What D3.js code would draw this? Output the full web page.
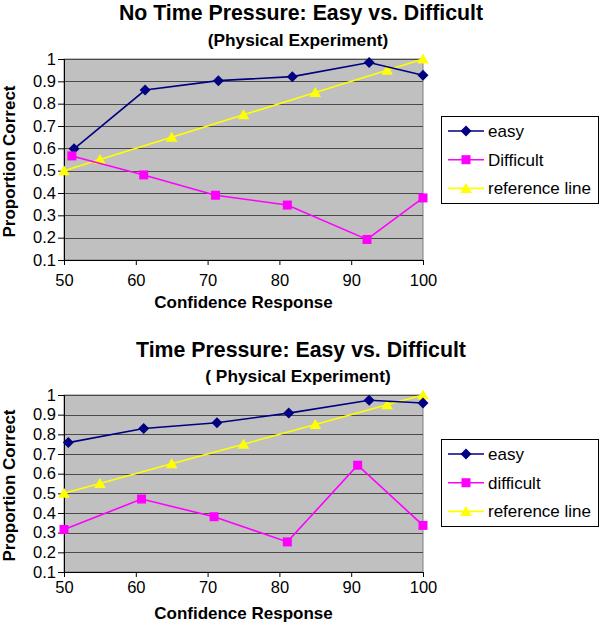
<!DOCTYPE html>
<html>
<head>
<meta charset="utf-8">
<script src="https://cdn.jsdelivr.net/npm/d3@7"></script>
<style>
  html, body { margin: 0; padding: 0; background: #fff; }
  svg { display: block; font-family: "Liberation Sans", Arial, Helvetica, sans-serif; }
</style>
</head>
<body>
<svg id="chart" width="600" height="625"></svg>
<script>
// ---------- data ----------
const xTicks = [50, 60, 70, 80, 90, 100];
const yTicks = [0.1, 0.2, 0.3, 0.4, 0.5, 0.6, 0.7, 0.8, 0.9, 1];
const yTickLabels = ["0.1", "0.2", "0.3", "0.4", "0.5", "0.6", "0.7", "0.8", "0.9", "1"];

const refX = [50, 55, 65, 75, 85, 95, 100];
const refY = [0.5, 0.55, 0.65, 0.75, 0.85, 0.95, 1.0];

// Chart 1: No time pressure
const noPressTitle = "No Time Pressure: Easy vs. Difficult";
const noPressSubtitle = "(Physical Experiment)";
const noPressEasyX = [51.4, 61.3, 71.5, 81.8, 92.5, 100];
const noPressEasyY = [0.598, 0.861, 0.903, 0.921, 0.984, 0.927];
const noPressDiffX = [51.1, 61.1, 71.1, 81.1, 92.2, 100];
const noPressDiffY = [0.566, 0.481, 0.390, 0.346, 0.192, 0.378];
const noPressLegend = ["easy", "Difficult", "reference line"];

// Chart 2: Time pressure
const pressTitle = "Time Pressure: Easy vs. Difficult";
const pressSubtitle = "( Physical Experiment)";
const pressEasyX = [50.6, 61.1, 71.3, 81.3, 92.5, 100];
const pressEasyY = [0.758, 0.830, 0.859, 0.908, 0.973, 0.959];
const pressDiffX = [50, 60.8, 70.9, 81.1, 90.9, 100];
const pressDiffY = [0.316, 0.471, 0.381, 0.253, 0.643, 0.337];
const pressLegend = ["easy", "difficult", "reference line"];

const xLabel = "Confidence Response";
const yLabel = "Proportion Correct";

// ---------- styles ----------
const COL_EASY = "#000080";
const COL_DIFF = "#FF00FF";
const COL_REF = "#FFFF00";

function markerPath(kind) {
  if (kind === "diamond") return "M0,-5.5L5.5,0L0,5.5L-5.5,0Z";
  if (kind === "square") return "M-4.5,-4.5H4.5V4.5H-4.5Z";
  return "M0,-5.5L5.8,4.5H-5.8Z";
}

const svg = d3.select("#chart");

function drawChart(cfg) {
  const g = svg.append("g");
  const x = d3.scaleLinear().domain([50, 100]).range([cfg.left, cfg.right]);
  const y = d3.scaleLinear().domain([0.1, 1]).range([cfg.bottom, cfg.top]);

  // plot background
  g.append("rect")
    .attr("x", cfg.left).attr("y", cfg.top)
    .attr("width", cfg.right - cfg.left).attr("height", cfg.bottom - cfg.top)
    .attr("fill", "#C0C0C0").attr("stroke", "#808080").attr("stroke-width", 1);

  // gridlines
  g.selectAll(".grid").data(yTicks).enter().append("line")
    .attr("x1", cfg.left).attr("x2", cfg.right)
    .attr("y1", d => Math.round(y(d)) + 0.5).attr("y2", d => Math.round(y(d)) + 0.5)
    .attr("stroke", "#4a4a4a").attr("stroke-width", 1);

  // y axis
  const yAxis = d3.axisLeft(y).tickValues(yTicks)
    .tickFormat((d, i) => yTickLabels[i]).tickSize(6).tickPadding(2);
  const ya = g.append("g").attr("transform", `translate(${cfg.left},0)`).call(yAxis);
  ya.selectAll("text").attr("font-size", 16.5).attr("fill", "#000")
    .attr("font-family", "Liberation Sans, Arial, sans-serif");
  ya.selectAll("line,path").attr("stroke", "#000");

  // x axis
  const xAxis = d3.axisBottom(x).tickValues(xTicks).tickSize(5).tickPadding(cfg.xPad);
  const xa = g.append("g").attr("transform", `translate(0,${cfg.bottom})`).call(xAxis);
  xa.selectAll("text").attr("font-size", 16.5).attr("fill", "#000")
    .attr("font-family", "Liberation Sans, Arial, sans-serif");
  xa.selectAll("line,path").attr("stroke", "#000");

  // series
  const series = [
    { xs: refX, ys: refY, color: COL_REF, kind: "triangle" },
    { xs: cfg.easyX, ys: cfg.easyY, color: COL_EASY, kind: "diamond" },
    { xs: cfg.diffX, ys: cfg.diffY, color: COL_DIFF, kind: "square" }
  ];
  const line = d3.line().x(d => x(d[0])).y(d => y(d[1]));
  series.forEach(s => {
    const pts = s.xs.map((v, i) => [v, s.ys[i]]);
    g.append("path").datum(pts).attr("d", line)
      .attr("fill", "none").attr("stroke", s.color).attr("stroke-width", 1.6);
    g.selectAll(null).data(pts).enter().append("path")
      .attr("transform", d => `translate(${x(d[0])},${y(d[1])})`)
      .attr("d", markerPath(s.kind)).attr("fill", s.color);
  });

  // titles
  g.append("text").attr("x", 301).attr("y", cfg.titleY).attr("text-anchor", "middle")
    .attr("font-size", 21.3).attr("font-weight", "bold").text(cfg.title);
  g.append("text").attr("x", 298).attr("y", cfg.subY).attr("text-anchor", "middle")
    .attr("font-size", 17.3).attr("font-weight", "bold").text(cfg.subtitle);

  // axis titles
  g.append("text").attr("x", (cfg.left + cfg.right) / 2).attr("y", cfg.xTitleY)
    .attr("text-anchor", "middle").attr("font-size", 17).attr("font-weight", "bold").text(xLabel);
  g.append("text").attr("transform", `translate(15,${(cfg.top + cfg.bottom) / 2 + 2}) rotate(-90)`)
    .attr("text-anchor", "middle").attr("font-size", 17).attr("font-weight", "bold").text(yLabel);

  // legend
  const lg = g.append("g");
  lg.append("rect").attr("x", 441.5).attr("y", cfg.legTop + 0.5)
    .attr("width", 157).attr("height", 87)
    .attr("fill", "#fff").attr("stroke", "#000").attr("stroke-width", 1);
  const legItems = [
    { label: cfg.legend[0], color: COL_EASY, kind: "diamond" },
    { label: cfg.legend[1], color: COL_DIFF, kind: "square" },
    { label: cfg.legend[2], color: COL_REF, kind: "triangle" }
  ];
  legItems.forEach((it, i) => {
    const cy = cfg.legTop + 15 + i * 28.7;
    lg.append("line").attr("x1", 448).attr("x2", 484).attr("y1", cy).attr("y2", cy)
      .attr("stroke", it.color).attr("stroke-width", 1.6);
    lg.append("path").attr("transform", `translate(466,${cy})`).attr("d", markerPath(it.kind))
      .attr("fill", it.color);
    lg.append("text").attr("x", 488).attr("y", cy + 6).attr("font-size", 17).text(it.label);
  });
}

drawChart({
  left: 64, right: 423, top: 59, bottom: 260, xPad: 9,
  title: noPressTitle, subtitle: noPressSubtitle, titleY: 20, subY: 46, xTitleY: 308,
  easyX: noPressEasyX, easyY: noPressEasyY, diffX: noPressDiffX, diffY: noPressDiffY,
  legend: noPressLegend, legTop: 116
});

drawChart({
  left: 64, right: 423, top: 395, bottom: 572, xPad: 4,
  title: pressTitle, subtitle: pressSubtitle, titleY: 357, subY: 382, xTitleY: 619,
  easyX: pressEasyX, easyY: pressEasyY, diffX: pressDiffX, diffY: pressDiffY,
  legend: pressLegend, legTop: 439
});
</script>
</body>
</html>
